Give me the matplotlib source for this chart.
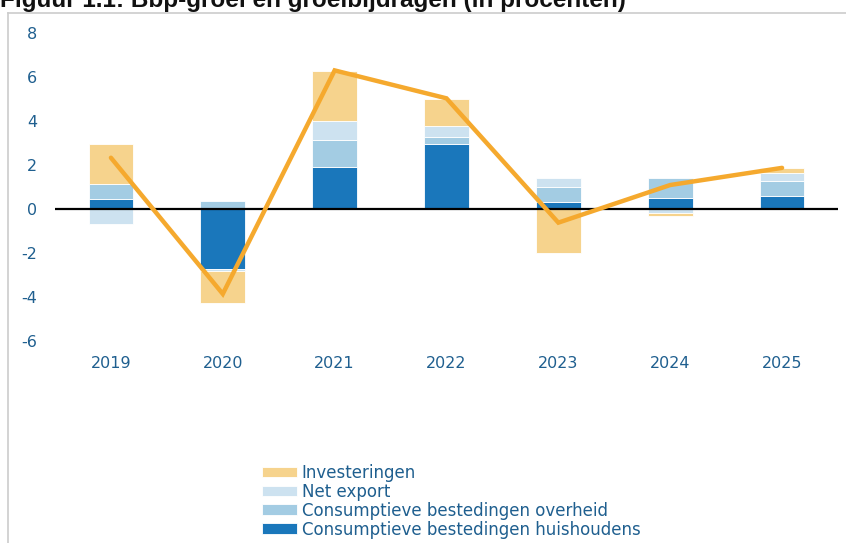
import matplotlib.pyplot as plt
import numpy as np
from matplotlib.lines import Line2D

plt.rcParams['axes.unicode_minus'] = False

years = ['2019', '2020', '2021', '2022', '2023', '2024', '2025']
huishoudens = [0.45, -2.73, 1.92, 2.95, 0.32, 0.50, 0.61]
overheid = [0.67, 0.38, 1.22, 0.32, 0.69, 0.91, 0.68]
net_export = [-0.67, -0.08, 0.86, 0.49, 0.40, -0.20, 0.33]
investeringen = [1.83, -1.46, 2.27, 1.23, -2.01, -0.12, 0.23]
bbp = [2.33, -3.86, 6.30, 5.03, -0.62, 1.09, 1.87]

series = [
    ('Consumptieve bestedingen huishoudens', huishoudens, '#1a77bb'),
    ('Consumptieve bestedingen overheid', overheid, '#a3cce3'),
    ('Net export', net_export, '#cde2f0'),
    ('Investeringen', investeringen, '#f6d38d'),
]

text_col = '#1f5f8f'

fig = plt.figure(figsize=(8.46, 5.43), dpi=100)
ax = fig.add_axes([55/846, 1 - 341/543, 783/846, 308/543])

x = np.arange(len(years))
pos_base = np.zeros(len(years))
neg_base = np.zeros(len(years))
for name, vals, col in series:
    vals = np.array(vals)
    base = np.where(vals >= 0, pos_base, neg_base)
    ax.bar(x, vals, width=0.4, bottom=base, color=col, edgecolor='white',
           linewidth=0.6, label=name, zorder=2)
    pos_base = pos_base + np.where(vals >= 0, vals, 0)
    neg_base = neg_base + np.where(vals < 0, vals, 0)

ax.axhline(0, color='black', lw=1.6, zorder=3)
ax.plot(x, bbp, color='#f5a92e', lw=3.2, solid_capstyle='round',
        solid_joinstyle='miter', zorder=4)

ax.set_xlim(-0.5, 6.5)
ax.set_ylim(-6, 8)
ax.set_yticks(np.arange(-6, 9, 2))
ax.set_xticks(x)
ax.set_xticklabels(years)
for s in ax.spines.values():
    s.set_visible(False)
ax.tick_params(axis='both', length=0, labelsize=11.5, labelcolor=text_col)
ax.tick_params(axis='y', pad=13)
ax.tick_params(axis='x', pad=11)

# legend, reversed order
handles, labels = ax.get_legend_handles_labels()
leg = fig.legend(handles[::-1], labels[::-1], loc='upper left',
                 bbox_to_anchor=(255/846, 1 - 457/543), frameon=False,
                 fontsize=12, handlelength=2.1, handleheight=0.6,
                 handletextpad=0.3, labelspacing=0.06, borderaxespad=0)
for t in leg.get_texts():
    t.set_color(text_col)

# frame lines and cut-off title
fig.add_artist(Line2D([8/846, 8/846], [0, 1 - 13/543], color='#cccccc', lw=1.2))
fig.add_artist(Line2D([8/846, 1], [1 - 13/543, 1 - 13/543], color='#cccccc', lw=1.2))
fig.text(0, 1 - 6.5/543, 'Figuur 1.1: Bbp-groei en groeibijdragen (in procenten)',
         fontsize=17.5, fontweight='bold', family='Liberation Sans',
         va='baseline', ha='left', color='#111111')

fig.savefig('out.png', dpi=100)
